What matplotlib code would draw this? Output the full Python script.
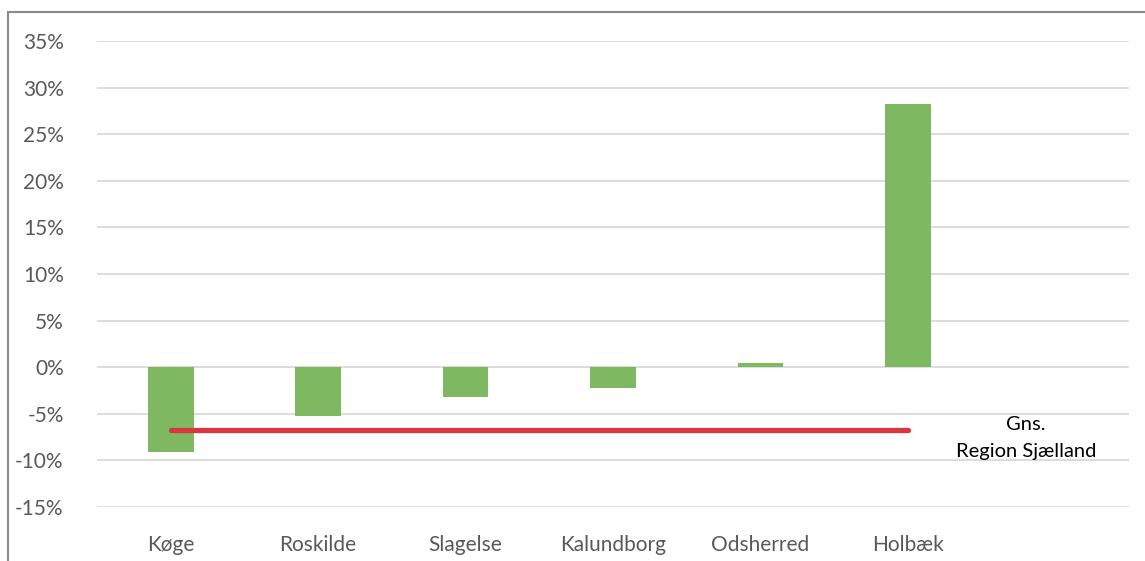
import matplotlib
matplotlib.use("Agg")
import matplotlib.pyplot as plt
from matplotlib.patches import Rectangle
from matplotlib.ticker import FuncFormatter

plt.rcParams['font.family'] = ['Lato', 'DejaVu Sans']

# data
kommuner = ["Køge", "Roskilde", "Slagelse", "Kalundborg", "Odsherred", "Holbæk", ""]
aendring = [-9.1, -5.2, -3.2, -2.2, 0.5, 28.2, None]
gns_region = -6.7
y_ticks = [-15, -10, -5, 0, 5, 10, 15, 20, 25, 30, 35]

W, H = 1145, 561
fig = plt.figure(figsize=(W / 100, H / 100), dpi=100)
ax = fig.add_axes([97 / W, 1 - 507 / H, (1129 - 97) / W, (507 - 41) / H])

xs = list(range(len(kommuner)))
vals = [v if v is not None else 0 for v in aendring]
ax.bar(xs, vals, width=0.31, color="#7EB962", zorder=3)

# average line from first to last municipality
n_real = sum(v is not None for v in aendring)
ax.plot([0, n_real - 1], [gns_region, gns_region], color="#D9363E",
        lw=3.8, solid_capstyle="round", zorder=4)
ax.text(5.8, -7.6, "Gns.\nRegion Sjælland", ha="center", va="center",
        fontsize=14.5, color="black", linespacing=1.65)

ax.set_xlim(-0.5, len(kommuner) - 0.5)
ax.set_ylim(-15, 35)
ax.set_yticks(y_ticks)
ax.yaxis.set_major_formatter(FuncFormatter(lambda v, p: f"{v:.0f}%"))
ax.set_xticks(xs)
ax.set_xticklabels(kommuner)
ax.grid(axis="y", color="#D9D9D9", lw=1.3, zorder=0)
for s in ax.spines.values():
    s.set_visible(False)
ax.tick_params(length=0, labelsize=15, colors="#595959")
ax.tick_params(axis="y", pad=24)
ax.tick_params(axis="x", pad=20)

fig.patches.append(Rectangle((8 / W, -0.1), 1.2, 1 - 12 / H + 0.1,
                             transform=fig.transFigure, fill=False,
                             edgecolor="#898989", lw=1.5))

fig.savefig("out.png", dpi=100)
